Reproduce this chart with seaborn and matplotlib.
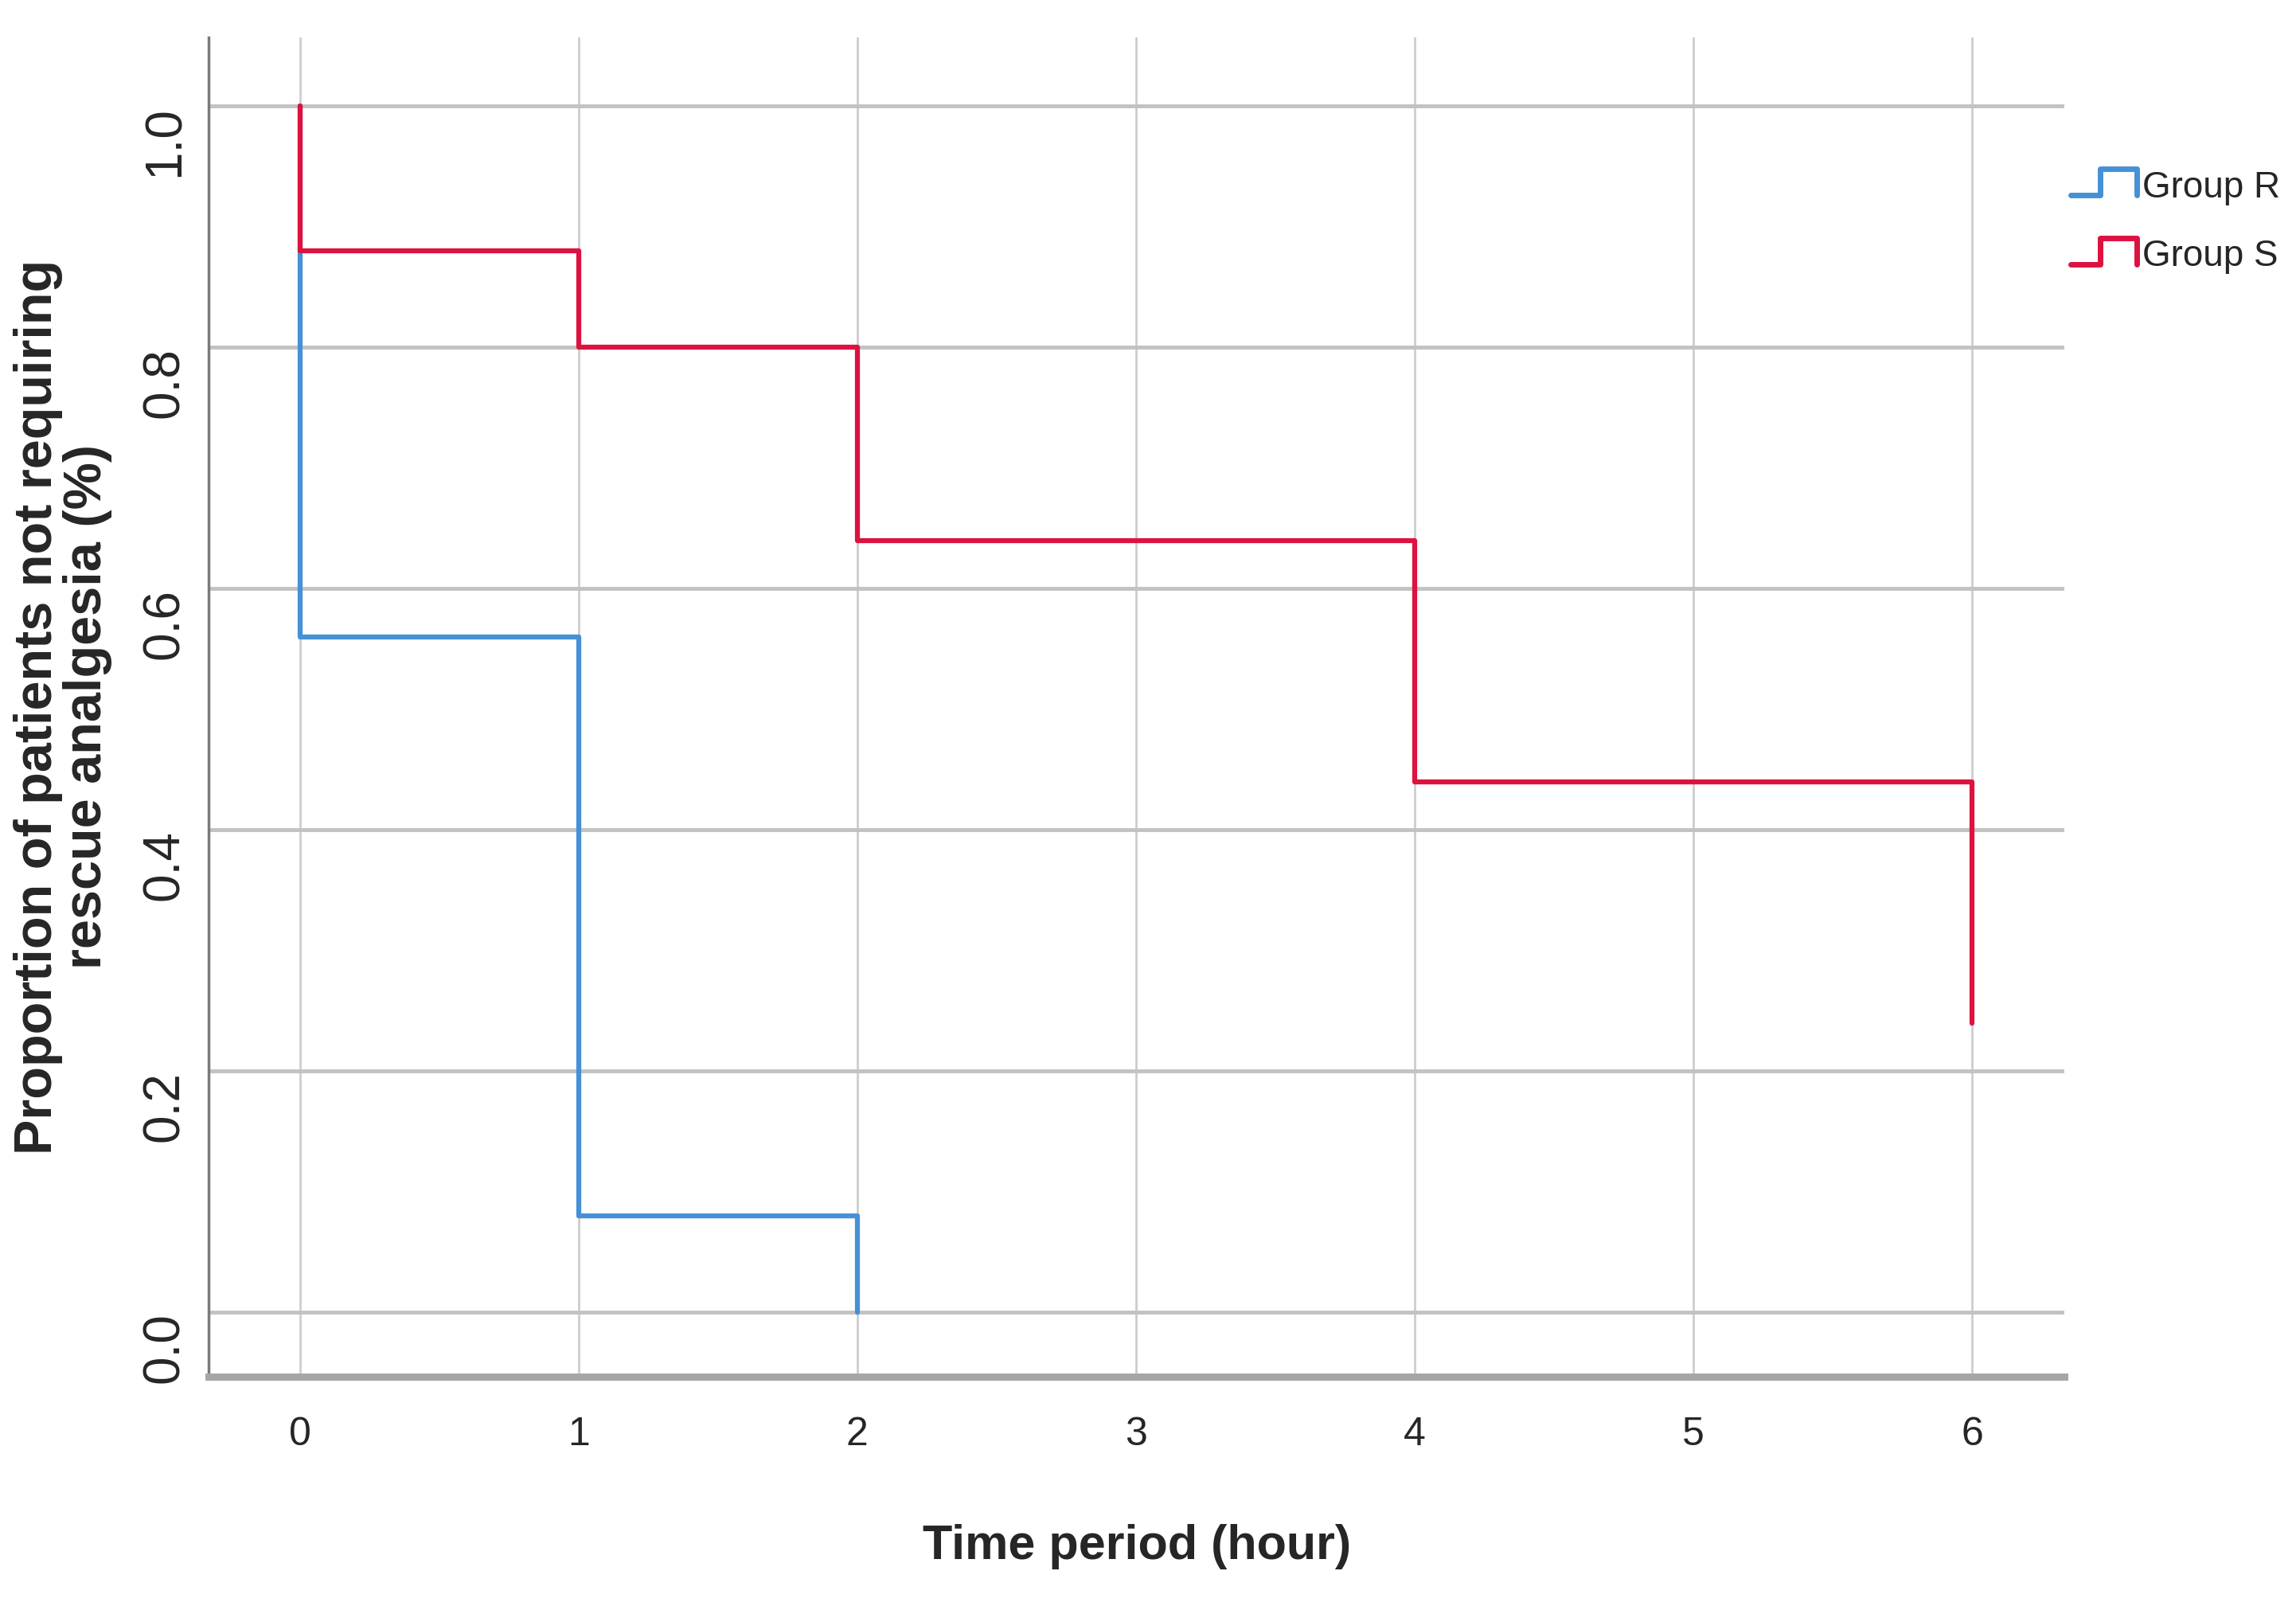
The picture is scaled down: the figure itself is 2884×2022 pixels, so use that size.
import pandas as pd
import matplotlib
matplotlib.use("Agg")
import matplotlib.pyplot as plt
import seaborn as sns
from matplotlib.lines import Line2D
from matplotlib.legend_handler import HandlerBase

# =====================================
# Data
# =====================================

groups = ["Group R", "Group S"]

time_r = [0, 0, 1, 2]
surv_r = [1.0, 0.56, 0.08, 0.0]

time_s = [0, 0, 1, 2, 4, 6]
surv_s = [1.0, 0.88, 0.80, 0.64, 0.44, 0.24]

x_ticks = [0, 1, 2, 3, 4, 5, 6]
y_ticks = [0.0, 0.2, 0.4, 0.6, 0.8, 1.0]

colors = {"Group R": "#4590d6", "Group S": "#dc1240"}

df = pd.concat([
    pd.DataFrame({"time": time_r, "surv": surv_r, "group": "Group R"}),
    pd.DataFrame({"time": time_s, "surv": surv_s, "group": "Group S"}),
], ignore_index=True)

# =====================================
# Style
# =====================================

sns.set_style("white")
plt.rcParams["font.family"] = ["Liberation Sans", "DejaVu Sans"]

fig = plt.figure(figsize=(28.84, 20.22), dpi=100)
ax = fig.add_axes([0.091, 0.145, 0.808, 0.832])

sns.lineplot(
    data=df, x="time", y="surv", hue="group", hue_order=groups,
    palette=colors, drawstyle="steps-post", estimator=None, sort=False,
    linewidth=4.5, legend=False, ax=ax
)

ax.set_xlim(-0.326, 6.33)
ax.set_ylim(-0.053, 1.057)
ax.set_xticks(x_ticks)
ax.set_yticks(y_ticks)
ax.set_yticklabels([f"{v:.1f}" for v in y_ticks], rotation=90, va="top",
                   fontsize=46)
ax.set_xticklabels([str(v) for v in x_ticks], fontsize=36)
ax.tick_params(axis="both", length=0)
ax.tick_params(axis="x", pad=36)
ax.tick_params(axis="y", pad=18)

ax.yaxis.grid(True, color="#c2c2c2", lw=3.5)
ax.xaxis.grid(True, color="#cdcdcd", lw=2)
ax.set_axisbelow(True)

for side in ["top", "right"]:
    ax.spines[side].set_visible(False)
ax.spines["bottom"].set_color("#a6a6a6")
ax.spines["bottom"].set_linewidth(6.5)
ax.spines["left"].set_color("#7a7a7a")
ax.spines["left"].set_linewidth(2.5)

ax.set_xlabel("Time period (hour)", fontsize=44, fontweight="bold")
ax.set_ylabel("Proportion of patients not requiring\nrescue analgesia (%)",
              fontsize=48, fontweight="bold", linespacing=1.0)
ax.xaxis.set_label_coords(0.5, -0.11)
ax.yaxis.set_label_coords(-0.052, 0.5)

# =====================================
# Legend with step-shaped handles
# =====================================

class StepHandler(HandlerBase):
    def create_artists(self, legend, orig_handle, xdescent, ydescent,
                       width, height, fontsize, trans):
        x0, y0 = -xdescent, -ydescent
        xs = [x0, x0 + 0.45 * width, x0 + 0.45 * width, x0 + width, x0 + width]
        ys = [y0 + 0.2 * height, y0 + 0.2 * height, y0 + 0.95 * height,
              y0 + 0.95 * height, y0 + 0.2 * height]
        line = Line2D(xs, ys, color=orig_handle.get_color(),
                      lw=orig_handle.get_linewidth(), transform=trans)
        return [line]

handles = [Line2D([], [], color=colors[g], lw=5) for g in groups]
fig.legend(
    handles, groups, handler_map={Line2D: StepHandler()},
    loc="upper left", bbox_to_anchor=(0.902, 0.896),
    frameon=False, borderpad=0, borderaxespad=0,
    handlelength=1.8, handleheight=1.1, handletextpad=0.15,
    labelspacing=0.85, prop={"size": 33}
)

plt.savefig("out.png", dpi=100)
plt.close()
